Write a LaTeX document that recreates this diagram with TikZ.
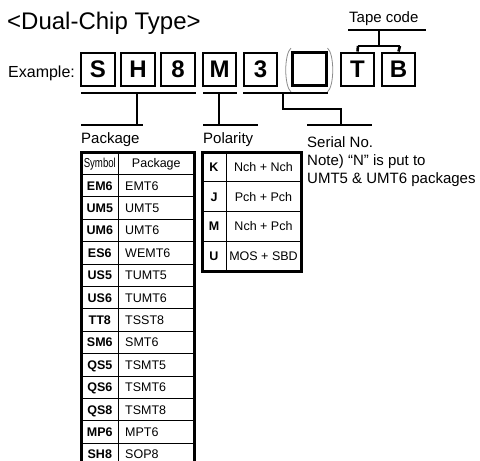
\documentclass[tikz,border=0pt]{standalone}
\usepackage{fontspec}
\setmainfont{Liberation Sans}
\definecolor{pargray}{gray}{0.55}
\begin{document}
\begin{tikzpicture}[x=1pt,y=-1pt,
  lbox/.style={draw, line width=2.4pt, minimum width=33.5pt, minimum height=33pt, inner sep=0pt,
    font=\fontsize{24}{24}\selectfont\bfseries, text height=17.5pt, text depth=0pt},
  brk/.style={line width=2.6pt},
  cell/.style={inner sep=0pt, font=\fontsize{12.5}{14}\selectfont, text height=9pt, text depth=0pt},
  bcell/.style={cell, font=\fontsize{12.5}{14}\selectfont\bfseries},
  lab/.style={inner sep=0pt, anchor=base west, font=\fontsize{15}{18}\selectfont},
  outerrule/.style={line width=3pt},
  innerrule/.style={line width=0.8pt}
]
\useasboundingbox (0,0) rectangle (480,461);
\clip (0,0) rectangle (480,461);

% title and example
\node[inner sep=0pt, anchor=base west, font=\fontsize{24}{28}\selectfont] (title) at (7,29.5) {<Dual-Chip Type>};
\node[inner sep=0pt, anchor=base west, font=\fontsize{16}{19}\selectfont] (example) at (8,77) {Example:};

% letter boxes
\node[lbox] (bS) at (98,69.2) {S};
\node[lbox] (bH) at (138,69.2) {H};
\node[lbox] (b8) at (178,69.2) {8};
\node[lbox] (bM) at (219.5,69.2) {M};
\node[lbox] (b3) at (260.5,69.2) {3};
\node[lbox, line width=3pt] (bE) at (309.5,69.2) {};
\node[lbox] (bT) at (357.5,69.2) {T};
\node[lbox] (bB) at (398.5,69.2) {B};

% parentheses around the empty box
\draw[pargray, line width=0.8pt] (291,48) .. controls (284,54) and (284,86) .. (291,92);
\draw[pargray, line width=0.8pt] (327.5,48) .. controls (334.5,54) and (334.5,86) .. (327.5,92);

% tape code
\node[lab] (tape) at (349,22) {Tape code};
\draw[brk] (348,30) -- (426,30);
\draw[brk] (379,30) -- (379,46);
\draw[brk] (358,46) -- (400,46);
\draw[brk] (358,46) -- (bT.north);
\draw[brk] (400,46) -- (bB.north);

% package bracket
\draw[brk] (81,93) -- (196,93);
\draw[brk] (137,93) -- (137,125);
\draw[brk] (81,125) -- (143,125);
% polarity bracket
\draw[brk] (203,93) -- (237,93);
\draw[brk] (219,93) -- (219,125);
\draw[brk] (203,125) -- (258,125);
% serial bracket
\draw[brk] (243,93) -- (328,93);
\draw[brk] (283,93) -- (283,109) -- (341,109) -- (341,125);
\draw[brk] (307,125) -- (372,125);

% labels
\node[lab] (lpkg) at (81,143.3) {Package};
\node[lab] (lpol) at (203,143.3) {Polarity};
\node[lab] (lser) at (307,147.5) {Serial No.};
\node[lab] (lnote1) at (307,165.8) {Note) “N” is put to};
\node[lab] (lnote2) at (307,183.3) {UMT5 \& UMT6 packages};

% package table
\foreach \k in {1,...,13} \draw[innerrule] (81,152+22.4*\k) -- (194,152+22.4*\k);
\draw[innerrule] (118.5,152) -- (118.5,465.6);
\draw[outerrule] (81,152) rectangle (194,465.6);
\node[cell] (hsym) at (99.8,163.2) {\fontsize{13}{14}\selectfont\scalebox{0.74}[1]{Symbol}};
\node[cell] (hpkg) at (156.3,163.2) {Package};
\foreach \s/\p [count=\k] in {EM6/EMT6, UM5/UMT5, UM6/UMT6, ES6/WEMT6, US5/TUMT5, US6/TUMT6,
    TT8/TSST8, SM6/SMT6, QS5/TSMT5, QS6/TSMT6, QS8/TSMT8, MP6/MPT6, SH8/SOP8} {
  \node[bcell] (s\k) at (99.8,163.2+22.4*\k) {\s};
  \node[cell, anchor=west] (p\k) at (125,163.2+22.4*\k) {\p};
}

% polarity table
\foreach \y in {181.75,211.5,241.25} \draw[innerrule] (202,\y) -- (301,\y);
\draw[innerrule] (226,152) -- (226,271);
\draw[outerrule] (202,152) rectangle (301,271);
\foreach \s/\p [count=\k] in {K/Nch + Nch, J/Pch + Pch, M/Nch + Pch, U/MOS + SBD} {
  \node[bcell] (q\k) at (214,137.1+29.75*\k) {\s};
  \node[cell] (r\k) at (263.5,137.1+29.75*\k) {\p};
}
\end{tikzpicture}
\end{document}
